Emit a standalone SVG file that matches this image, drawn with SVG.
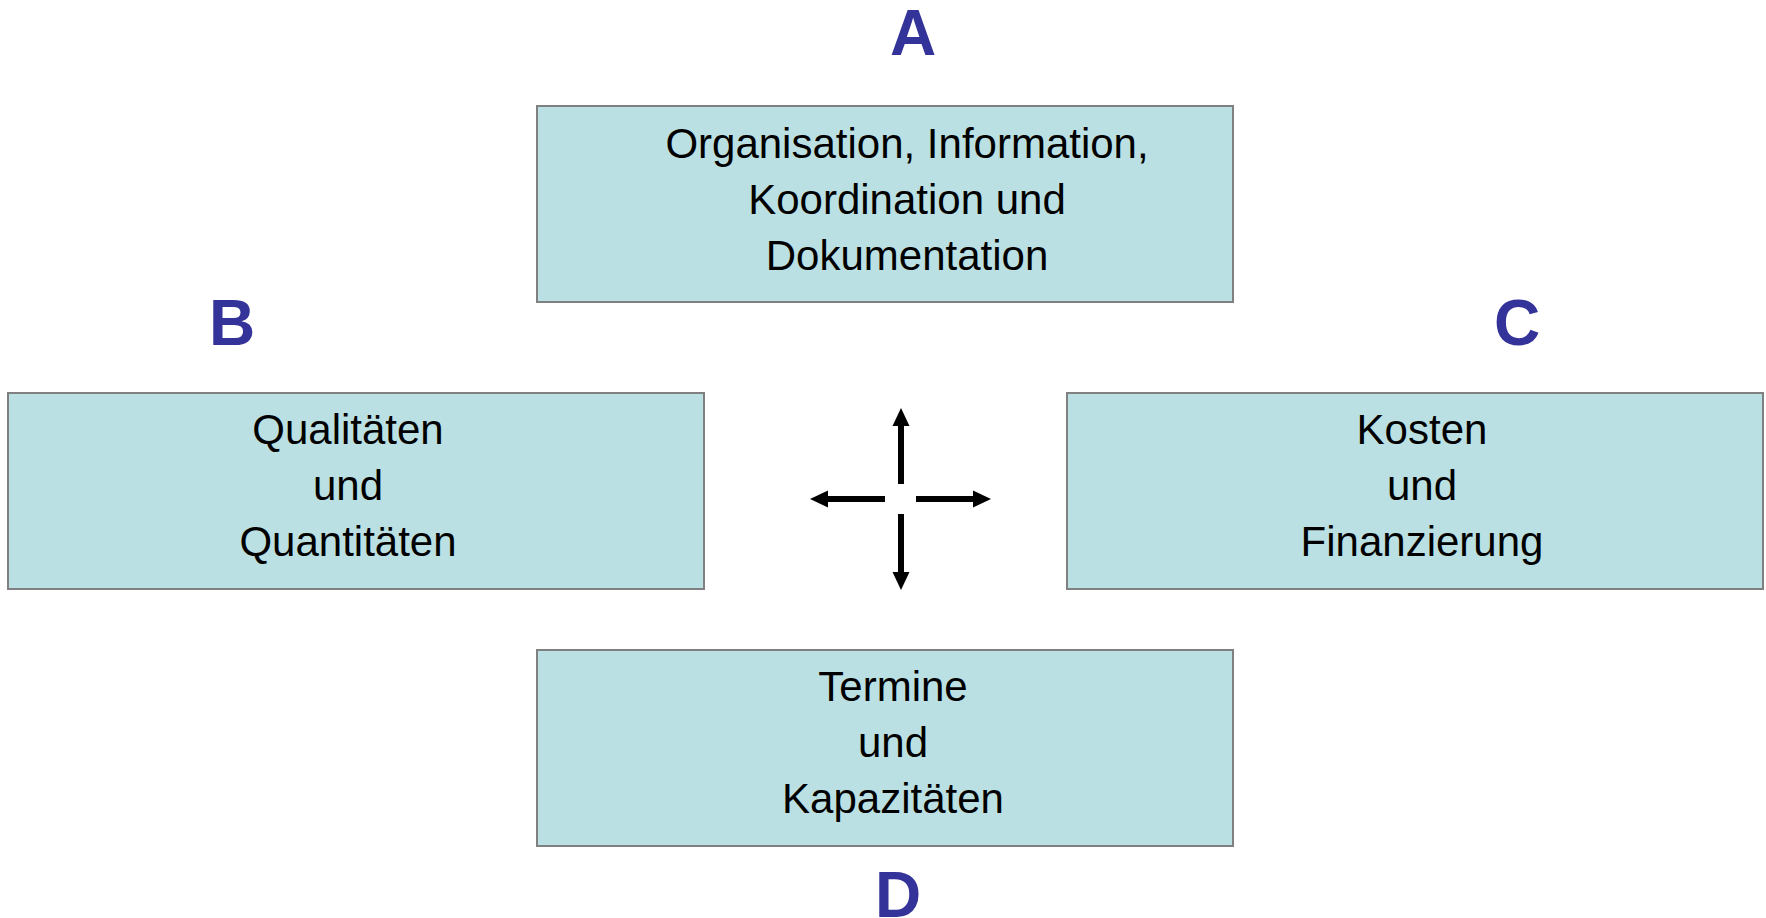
<svg xmlns="http://www.w3.org/2000/svg" width="1766" height="918" viewBox="0 0 1766 918">
<style>
.box{fill:#BBE0E3;stroke:#808080;stroke-width:2}
.t{font-family:"Liberation Sans",Arial,sans-serif;font-size:42px;fill:#000;text-anchor:middle}
.l{font-family:"Liberation Sans",Arial,sans-serif;font-size:64px;font-weight:bold;fill:#333399;text-anchor:middle}
.c{stroke:#000;stroke-width:6;fill:none}
</style>
<defs>
<marker id="ah" markerUnits="userSpaceOnUse" markerWidth="18" markerHeight="18" viewBox="0 0 18 18" refX="2" refY="9" orient="auto">
<path d="M0,0.5 L18,9 L0,17.5 Z" fill="#000"/>
</marker>
</defs>
<rect width="1766" height="918" fill="#fff"/>
<g id="label-A"><text class="l" x="913" y="55">A</text></g>
<g id="label-B"><text class="l" x="232" y="345">B</text></g>
<g id="label-C"><text class="l" x="1517" y="345">C</text></g>
<g id="label-D"><text class="l" x="898" y="917">D</text></g>
<g id="node-A">
<rect class="box" x="537" y="106" width="696" height="196"/>
<text class="t" x="907" y="158">Organisation, Information,</text>
<text class="t" x="907" y="214">Koordination und</text>
<text class="t" x="907" y="270">Dokumentation</text>
</g>
<g id="node-B">
<rect class="box" x="8" y="393" width="696" height="196"/>
<text class="t" x="348" y="444">Qualitäten</text>
<text class="t" x="348" y="500">und</text>
<text class="t" x="348" y="556">Quantitäten</text>
</g>
<g id="node-C">
<rect class="box" x="1067" y="393" width="696" height="196"/>
<text class="t" x="1422" y="444">Kosten</text>
<text class="t" x="1422" y="500">und</text>
<text class="t" x="1422" y="556">Finanzierung</text>
</g>
<g id="node-D">
<rect class="box" x="537" y="650" width="696" height="196"/>
<text class="t" x="893" y="701">Termine</text>
<text class="t" x="893" y="757">und</text>
<text class="t" x="893" y="813">Kapazitäten</text>
</g>
<g id="connectors">
<line class="c" x1="901" y1="484" x2="901" y2="424" marker-end="url(#ah)"/>
<line class="c" x1="901" y1="514" x2="901" y2="574" marker-end="url(#ah)"/>
<line class="c" x1="885" y1="499" x2="826" y2="499" marker-end="url(#ah)"/>
<line class="c" x1="916" y1="499" x2="975" y2="499" marker-end="url(#ah)"/>
</g>
</svg>
